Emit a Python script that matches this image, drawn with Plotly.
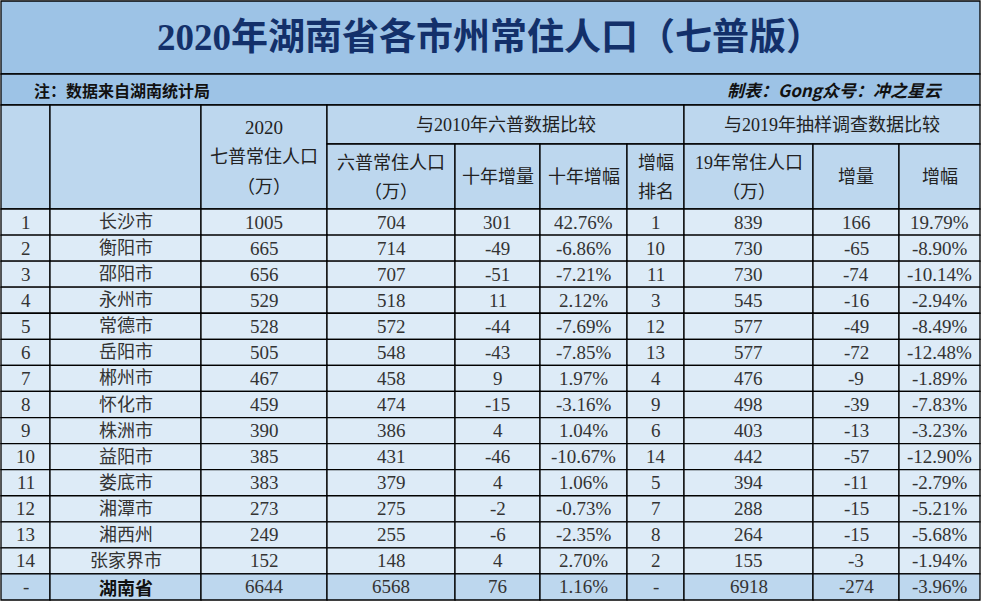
import plotly.graph_objects as go

cities = ["长沙市","衡阳市","邵阳市","永州市","常德市","岳阳市","郴州市","怀化市","株洲市","益阳市","娄底市","湘潭市","湘西州","张家界市"]
pop2020 = [1005,665,656,529,528,505,467,459,390,385,383,273,249,152]
pop2010 = [704,714,707,518,572,548,458,474,386,431,379,275,255,148]
inc10 = [301,-49,-51,11,-44,-43,9,-15,4,-46,4,-2,-6,4]
rate10 = ["42.76%","-6.86%","-7.21%","2.12%","-7.69%","-7.85%","1.97%","-3.16%","1.04%","-10.67%","1.06%","-0.73%","-2.35%","2.70%"]
rank10 = [1,10,11,3,12,13,4,9,6,14,5,7,8,2]
pop2019 = [839,730,730,545,577,577,476,498,403,442,394,288,264,155]
inc19 = [166,-65,-74,-16,-49,-72,-9,-39,-13,-57,-11,-15,-15,-3]
rate19 = ["19.79%","-8.90%","-10.14%","-2.94%","-8.49%","-12.48%","-1.89%","-7.83%","-3.23%","-12.90%","-2.79%","-5.21%","-5.68%","-1.94%"]
total = ["-","湖南省",6644,6568,76,"1.16%","-",6918,-274,"-3.96%"]

title = "2020年湖南省各市州常住人口（七普版）"
note_left = "注：数据来自湖南统计局"
note_right = "制表：Gong众号：冲之星云"

W, H = 982, 601
xs = [1, 50, 201, 327, 455, 540, 627, 684, 813, 899, 980]
y_title, y_note, y_head, y_sub, y_data = 1, 74, 105, 144, 209
row_h = (600 - y_data) / 15

FONT = "Liberation Serif, Noto Sans CJK SC"
shapes, anns = [], []
def rect(x0, y0, x1, y1, fill):
    shapes.append(dict(type="rect", x0=x0, x1=x1, y0=y0, y1=y1, fillcolor=fill,
                       line=dict(color="black", width=1.3), layer="below"))
def text(x, y, t, size=18, color="#222", bold=False, xanchor="center", fam=FONT, italic=False):
    if bold: t = f"<b>{t}</b>"
    if italic: t = f"<i>{t}</i>"
    anns.append(dict(x=x, y=y, text=t, showarrow=False, xanchor=xanchor, yanchor="middle",
                     font=dict(size=size, color=color, family=fam)))

rect(1, y_title, 980, y_note, "#9DC3E6")
text(490, 37, title, size=37, color="#13306A", bold=True)
rect(1, y_note, 980, y_head, "#9DC3E6")
text(32, 89.5, note_left, size=16, color="#111", bold=True, xanchor="left", fam="Noto Sans CJK SC")
text(945, 89.5, note_right, size=17, color="#111", bold=True, xanchor="right", fam="Noto Sans CJK SC", italic=True)

HC = "#BDD7EE"
rect(xs[0], y_head, xs[1], y_data, HC)
rect(xs[1], y_head, xs[2], y_data, HC)
rect(xs[2], y_head, xs[3], y_data, HC)
text((xs[2]+xs[3])/2, 127, "2020", size=19)
text((xs[2]+xs[3])/2, 157, "七普常住人口")
text((xs[2]+xs[3])/2, 187, "（万）")
rect(xs[3], y_head, xs[7], y_sub, HC)
text((xs[3]+xs[7])/2, 124.5, "与2010年六普数据比较")
rect(xs[7], y_head, xs[10], y_sub, HC)
text((xs[7]+xs[10])/2, 124.5, "与2019年抽样调查数据比较")
subs = [["六普常住人口","（万）"],["十年增量"],["十年增幅"],["增幅","排名"],["19年常住人口","（万）"],["增量"],["增幅"]]
for i, s in enumerate(subs):
    x0, x1 = xs[3+i], xs[4+i]
    rect(x0, y_sub, x1, y_data, HC)
    cy = (y_sub + y_data) / 2
    if len(s) == 1:
        text((x0+x1)/2, cy, s[0])
    else:
        text((x0+x1)/2, cy-14, s[0]); text((x0+x1)/2, cy+15, s[1])

rows = [[i+1, cities[i], pop2020[i], pop2010[i], inc10[i], rate10[i], rank10[i], pop2019[i], inc19[i], rate19[i]] for i in range(14)]
rows.append(total)
for r, row in enumerate(rows):
    y0 = y_data + r*row_h; y1 = y0 + row_h
    last = r == 14
    for c in range(10):
        rect(xs[c], y0, xs[c+1], y1, HC if last else "#DDEBF7")
        v = row[c]
        if last and c == 1:
            text((xs[c]+xs[c+1])/2, (y0+y1)/2, v, size=18, bold=True, color="#111", fam="Noto Sans CJK SC")
        else:
            sz = 18 if c == 1 else 19
            text((xs[c]+xs[c+1])/2, (y0+y1)/2, str(v), size=sz, color="#333")

fig = go.Figure()
fig.update_layout(width=W, height=H, margin=dict(l=0, r=0, t=0, b=0),
                  paper_bgcolor="white", plot_bgcolor="white",
                  xaxis=dict(range=[0, W], visible=False, fixedrange=True),
                  yaxis=dict(range=[H, 0], visible=False, fixedrange=True),
                  shapes=shapes, annotations=anns, showlegend=False)
fig.write_html("out.html", config={"displayModeBar": False},
               post_script="document.body.style.margin='0';document.body.style.overflow='hidden';")
